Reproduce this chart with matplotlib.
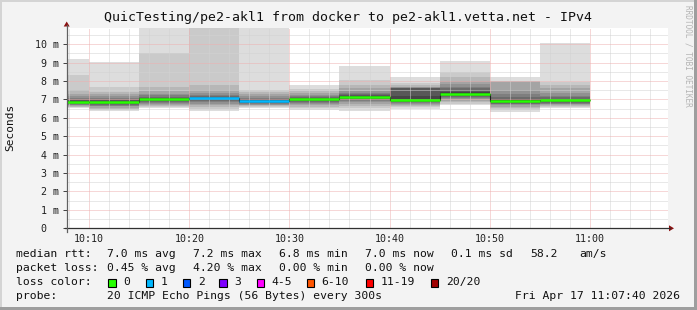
import matplotlib
matplotlib.use("Agg")
import numpy as np
from matplotlib import pyplot as plt
from matplotlib.patches import Rectangle, Polygon
from matplotlib.lines import Line2D

# minutes after 10:00 at which each 5 minute step ends
col_end = [10, 15, 20, 25, 30, 35, 40, 45, 50, 55, 60]
# median rtt per step (ms)
medians = [6.87, 6.85, 7.02, 7.07, 6.90, 7.01, 7.15, 6.97, 7.30, 6.94, 6.96]
# lost pings per step
losses = [0, 0, 0, 1, 1, 0, 0, 0, 0, 0, 0]
# sorted 20 ping times per step (ms)
pings = [
    [6.52, 6.57, 6.61, 6.65, 6.69, 6.72, 6.76, 6.79, 6.82, 6.85, 6.89, 6.93, 6.97, 7.02, 7.10, 7.20, 7.32, 7.50, 8.33, 9.20],
    [6.39, 6.45, 6.50, 6.56, 6.62, 6.67, 6.72, 6.76, 6.80, 6.83, 6.87, 6.91, 6.96, 7.02, 7.10, 7.20, 7.30, 7.42, 7.66, 9.02],
    [6.52, 6.58, 6.64, 6.70, 6.75, 6.80, 6.85, 6.90, 6.95, 6.99, 7.03, 7.06, 7.10, 7.15, 7.22, 7.32, 7.45, 7.70, 9.54, 11.40],
    [6.39, 6.50, 6.60, 6.70, 6.78, 6.84, 6.90, 6.95, 7.00, 7.05, 7.08, 7.10, 7.13, 7.18, 7.25, 7.34, 7.52, 7.79, 11.20, 12.50],
    [6.52, 6.58, 6.63, 6.68, 6.72, 6.76, 6.80, 6.83, 6.86, 6.89, 6.92, 6.96, 7.00, 7.05, 7.10, 7.18, 7.28, 7.40, 7.52, 11.80],
    [6.43, 6.52, 6.60, 6.68, 6.74, 6.80, 6.85, 6.90, 6.95, 6.99, 7.03, 7.05, 7.08, 7.12, 7.18, 7.25, 7.35, 7.45, 7.55, 7.79],
    [6.39, 6.55, 6.67, 6.77, 6.85, 6.92, 6.98, 7.03, 7.08, 7.12, 7.17, 7.19, 7.22, 7.28, 7.35, 7.45, 7.60, 7.79, 8.06, 8.82],
    [6.47, 6.58, 6.66, 6.72, 6.77, 6.81, 6.85, 6.88, 6.91, 6.95, 7.00, 7.20, 7.60, 7.62, 7.64, 7.66, 7.70, 7.78, 7.92, 8.20],
    [6.70, 6.77, 6.85, 6.93, 7.00, 7.06, 7.12, 7.17, 7.22, 7.27, 7.33, 7.40, 7.50, 7.60, 7.70, 7.85, 8.00, 8.24, 8.51, 9.09],
    [6.34, 6.44, 6.52, 6.60, 6.68, 6.73, 6.78, 6.82, 6.86, 6.90, 6.96, 7.00, 7.05, 7.15, 7.30, 7.52, 7.97, 7.98, 7.99, 8.24],
    [6.52, 6.58, 6.64, 6.69, 6.74, 6.78, 6.82, 6.86, 6.90, 6.93, 6.98, 7.01, 7.05, 7.12, 7.20, 7.34, 7.60, 7.79, 7.97, 10.05],
]

xtick_pos = [10, 20, 30, 40, 50, 60]
xtick_labels = ["10:10", "10:20", "10:30", "10:40", "10:50", "11:00"]
ytick_pos = [0, 1, 2, 3, 4, 5, 6, 7, 8, 9, 10]
ytick_labels = ["0  ", "1 m", "2 m", "3 m", "4 m", "5 m", "6 m", "7 m", "8 m", "9 m", "10 m"]

loss_keys = ["0", "1", "2", "3", "4-5", "6-10", "11-19", "20/20"]
loss_colors = ["#26ff00", "#00b8ff", "#0059ff", "#7e00ff", "#ff00ff", "#ff5500", "#ff0000", "#a00000"]

title = "QuicTesting/pe2-akl1 from docker to pe2-akl1.vetta.net - IPv4"
rtt_stats = ["7.0 ms avg", "7.2 ms max", "6.8 ms min", "7.0 ms now", "0.1 ms sd", "58.2", "am/s"]
loss_stats = ["0.45 % avg", "4.20 % max", "0.00 % min", "0.00 % now"]
probe_text = "20 ICMP Echo Pings (56 Bytes) every 300s"
stamp = "Fri Apr 17 11:07:40 2026"

W, H = 697, 310
MONO = "DejaVu Sans Mono"


def fx(px):
    return px / W


def fy(py):
    return 1 - py / H


fig = plt.figure(figsize=(W / 100, H / 100), dpi=100)
fig.patch.set_facecolor("#f3f3f3")

# 3d frame
fig.add_artist(Rectangle((0, fy(2)), 1, 2 / H, transform=fig.transFigure, color="#d4d4d4", lw=0))
fig.add_artist(Rectangle((0, 0), 2 / W, 1, transform=fig.transFigure, color="#d4d4d4", lw=0))
fig.add_artist(Rectangle((fx(694), 0), 3 / W, 1, transform=fig.transFigure, color="#9e9e9e", lw=0))
fig.add_artist(Rectangle((0, 0), 1, 3 / H, transform=fig.transFigure, color="#9e9e9e", lw=0))

left, right, top, bottom = 66.7, 668.3, 27.7, 228.3
ax = fig.add_axes([fx(left), fy(bottom), fx(right) - fx(left), (bottom - top) / H])
ax.set_facecolor("white")

# smoke
half = 10
starts = [e - 5 for e in col_end]
for ibot in range(1, half + 1):
    c = int(190 / half * (half - ibot)) + 50
    col = "#%02x%02x%02x" % (c, c, c)
    lo = [p[ibot - 1] for p in pings]
    hi = [p[20 - ibot] for p in pings]
    ax.bar(starts, np.array(hi) - np.array(lo), bottom=lo, width=5, align="edge",
           color=col, lw=0, antialiased=False, zorder=1)

# median
edges = [starts[0]] + col_end
ax.stairs(medians, edges, baseline=None, color="#202020", lw=0.8, zorder=2)
for s, e, m, l in zip(starts, col_end, medians, losses):
    ax.plot([s, e], [m, m], color=loss_colors[l], lw=1.8, solid_capstyle="butt", zorder=3)

ax.set_xlim(7.75, 67.85)
ax.set_ylim(0, 10.9)

ax.set_xticks(xtick_pos)
ax.set_xticklabels(xtick_labels)
ax.set_xticks(np.arange(8, 68, 2), minor=True)
ax.set_yticks(ytick_pos)
ax.set_yticklabels(ytick_labels)
ax.set_yticks(np.arange(0.5, 11, 1), minor=True)
ax.grid(which="major", color="#eeb0b0", linestyle=(0, (1, 1)), lw=0.72)
ax.grid(which="minor", color="#d2d2d2", linestyle=(0, (1, 1)), lw=0.72)

for lab in ax.get_xticklabels() + ax.get_yticklabels():
    lab.set_family(MONO)
    lab.set_fontsize(7.2)
    lab.set_color("#202020")
ax.tick_params(axis="x", which="both", length=0, pad=4.2)
ax.tick_params(axis="y", which="major", length=3, width=0.7, color="#404040", pad=2.5)
ax.tick_params(axis="y", which="minor", length=0)

for s in ax.spines.values():
    s.set_visible(False)

# axes with arrows
ax_col = "#303030"
arr = "#8b1010"
fig.add_artist(Line2D([fx(left - 2), fx(670)], [fy(bottom), fy(bottom)], transform=fig.transFigure, color=ax_col, lw=0.9))
fig.add_artist(Line2D([fx(left), fx(left)], [fy(bottom + 4), fy(25)], transform=fig.transFigure, color="#606060", lw=0.9))
fig.add_artist(Polygon([[fx(669), fy(bottom - 3)], [fx(669), fy(bottom + 3)], [fx(674), fy(bottom)]],
                       closed=True, transform=fig.transFigure, color=arr, lw=0))
fig.add_artist(Polygon([[fx(left - 3), fy(26.5)], [fx(left + 3), fy(26.5)], [fx(left), fy(21.5)]],
                       closed=True, transform=fig.transFigure, color=arr, lw=0))

fig.text(0.5, fy(18), title, family=MONO, fontsize=9.5, ha="center", va="center", color="#101010")
fig.text(fx(10), fy(127), "Seconds", family=MONO, fontsize=8, rotation=90, ha="center", va="center", color="#101010")
fig.text(fx(688), fy(5), "RRDTOOL / TOBI OETIKER", family=MONO, fontsize=5.6, rotation=270,
         ha="center", va="top", color="#b4b4b4")

fs = 8.2
tx = dict(family=MONO, fontsize=fs, va="center", color="#101010")
fig.text(fx(16), fy(254), "median rtt:", **tx)
for xp, t in zip([107, 193, 279, 365, 451, 530, 579], rtt_stats):
    fig.text(fx(xp), fy(254), t, **tx)
fig.text(fx(16), fy(268), "packet loss:", **tx)
for xp, t in zip([107, 193, 279, 365], loss_stats):
    fig.text(fx(xp), fy(268), t, **tx)
fig.text(fx(16), fy(282), "loss color:", **tx)
box_x = [108.3, 145.7, 182.7, 219.3, 256.7, 306.7, 365.7, 430.7]
for bx, k, c in zip(box_x, loss_keys, loss_colors):
    fig.add_artist(Rectangle((fx(bx), fy(286.5)), 7.3 / W, 8 / H, transform=fig.transFigure,
                             facecolor=c, edgecolor="black", lw=0.8))
    fig.text(fx(bx + 15), fy(282), k, **tx)
fig.text(fx(16), fy(296), "probe:", **tx)
fig.text(fx(107), fy(296), probe_text, **tx)
fig.text(fx(680), fy(296), stamp, ha="right", **tx)

fig.savefig("out.png", dpi=100, facecolor=fig.get_facecolor())
